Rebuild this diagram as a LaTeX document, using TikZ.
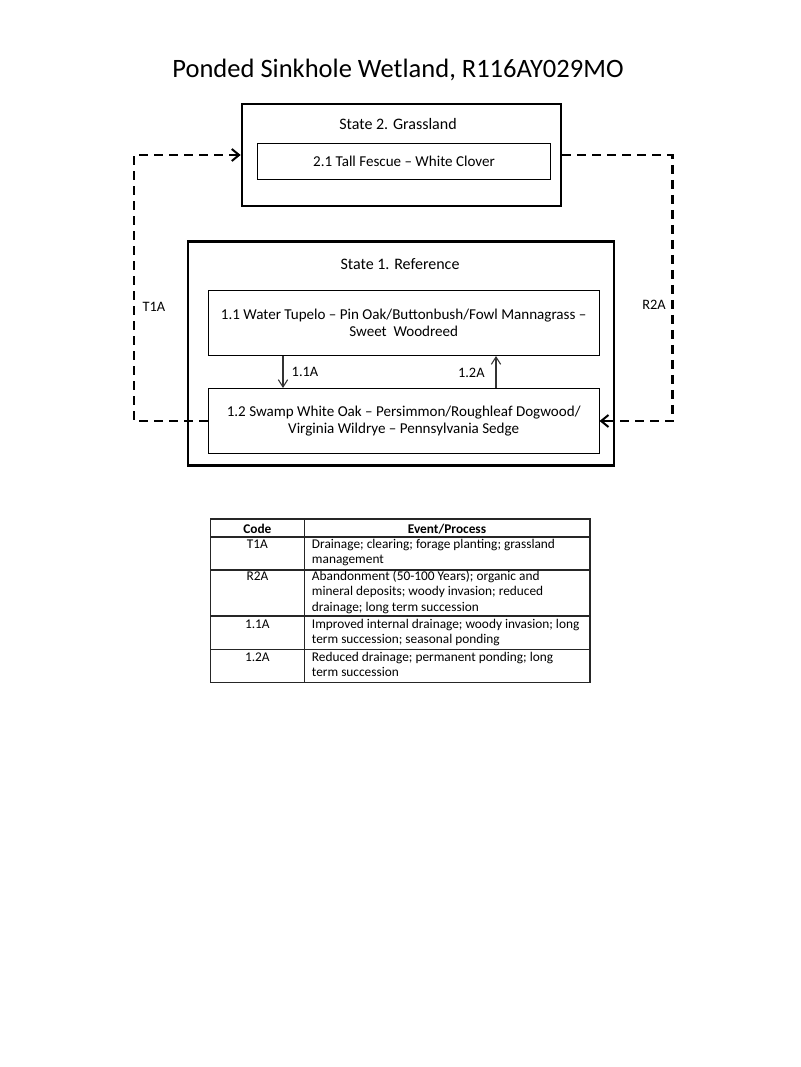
\documentclass[tikz,border=0pt]{standalone}
\usepackage{fontspec}
\setmainfont{Carlito}
\usetikzlibrary{arrows.meta}
\begin{document}
\begin{tikzpicture}[x=0.75pt,y=-0.75pt,
  titlefont/.style={font=\fontsize{19.9pt}{23pt}\selectfont, inner sep=0pt},
  lbl/.style={font=\fontsize{10.8pt}{13pt}\selectfont, inner sep=0pt},
  stitle/.style={font=\fontsize{12pt}{14pt}\selectfont, inner sep=0pt},
  statebox/.style={draw, line width=2pt, inner sep=0pt},
  phasebox/.style={draw, line width=0.8pt, inner sep=0pt, align=center,
    font=\fontsize{11.3pt}{13pt}\selectfont},
  thinarrow/.style={draw=black!80, line width=0.8pt, -{Straight Barb[length=5.5pt,width=7pt]}},
  dasharrow/.style={line width=1.75pt, dash pattern=on 6.5pt off 4.75pt},
  tline/.style={draw=black!85, line width=0.8pt},
  tfont/.style={font=\fontsize{10pt}{11.6pt}\selectfont, inner sep=0pt, anchor=base},
  tfontl/.style={font=\fontsize{10pt}{11.6pt}\selectfont, inner sep=0pt, anchor=base west},
  tbold/.style={font=\fontsize{10pt}{11.6pt}\selectfont\bfseries, inner sep=0pt, anchor=base}
]
\fill[white] (0,0) rectangle (800,1067);
\useasboundingbox (0,0) rectangle (800,1067);

% title
\node[titlefont, anchor=base] (title) at (398,77.3) {Ponded Sinkhole Wetland, R116AY029MO};

% State 2
\node[statebox, minimum width=239.25pt, minimum height=76.5pt] (s2) at (401.5,155) {};
\node[stitle, anchor=base] (s2t) at (398,129) {State 2. Grassland};
\node[phasebox, minimum width=220pt, minimum height=27pt] (p21) at (404,161.3) {2.1 Tall Fescue -- White Clover};

% State 1
\node[statebox, minimum width=319.7pt, minimum height=168pt] (s1) at (401,353.6) {};
\node[stitle, anchor=base] (s1t) at (400,269) {State 1. Reference};
\node[phasebox, minimum width=293pt, minimum height=48.75pt] (p11) at (403.7,323)
  {1.1 Water Tupelo -- Pin Oak/Buttonbush/Fowl Mannagrass --\\Sweet\ \ Woodreed};
\node[phasebox, minimum width=293pt, minimum height=48.75pt] (p12) at (403.7,421)
  {1.2 Swamp White Oak -- Persimmon/Roughleaf Dogwood/\\Virginia Wildrye -- Pennsylvania Sedge};

% community pathways
\coordinate (x11) at (283,0);
\coordinate (x12) at (496,0);
\draw[thinarrow] (p11.south -| x11) -- (p12.north -| x11);
\draw[thinarrow] (p12.north -| x12) -- (p11.south -| x12);
\node[lbl, anchor=base] (l11) at (305,376.5) {1.1A};
\node[lbl, anchor=base] (l12) at (471.3,377.7) {1.2A};

% transitions
\coordinate (cl) at (134,0);
\coordinate (cr) at (672.5,0);
\draw[dasharrow] (p12.west) -- (p12.west -| cl) -- (s2.west -| cl) -- (s2.west);
\draw[line width=1.5pt, -{Straight Barb[length=5.5pt,width=9pt]}] ([xshift=-8pt]s2.west) -- (s2.west);
\draw[dasharrow] (s2.east) -- (s2.east -| cr) -- (p12.east -| cr) -- (p12.east);
\draw[line width=1.5pt, -{Straight Barb[length=5.5pt,width=9pt]}] ([xshift=8pt]p12.east) -- (p12.east);
\node[lbl, anchor=base] (lt1) at (154,311.7) {T1A};
\node[lbl, anchor=base] (lr2) at (654,309) {R2A};

% table
\draw[tline] (210.5,519) rectangle (590,682.3);
\draw[tline] (210.5,537) -- (590,537);
\draw[tline] (210.5,570) -- (590,570);
\draw[tline] (210.5,616) -- (590,616);
\draw[tline] (210.5,649.3) -- (590,649.3);
\draw[tline] (304.3,519) -- (304.3,682.3);

\node[tbold] (hc) at (257.4,533) {Code};
\node[tbold] (he) at (447,533) {Event/Process};

\node[tfont] (c1) at (257.4,548) {T1A};
\node[tfontl] (e1a) at (311.7,548) {Drainage; clearing; forage planting; grassland};
\node[tfontl] (e1b) at (311.7,563.5) {management};

\node[tfont] (c2) at (257.4,580) {R2A};
\node[tfontl] (e2a) at (311.7,580) {Abandonment (50-100 Years); organic and};
\node[tfontl] (e2b) at (311.7,595.5) {mineral deposits; woody invasion; reduced};
\node[tfontl] (e2c) at (311.7,611) {drainage; long term succession};

\node[tfont] (c3) at (257.4,628) {1.1A};
\node[tfontl] (e3a) at (311.7,628) {Improved internal drainage; woody invasion; long};
\node[tfontl] (e3b) at (311.7,643.5) {term succession; seasonal ponding};

\node[tfont] (c4) at (257.4,661) {1.2A};
\node[tfontl] (e4a) at (311.7,661) {Reduced drainage; permanent ponding; long};
\node[tfontl] (e4b) at (311.7,676.5) {term succession};
\end{tikzpicture}
\end{document}
